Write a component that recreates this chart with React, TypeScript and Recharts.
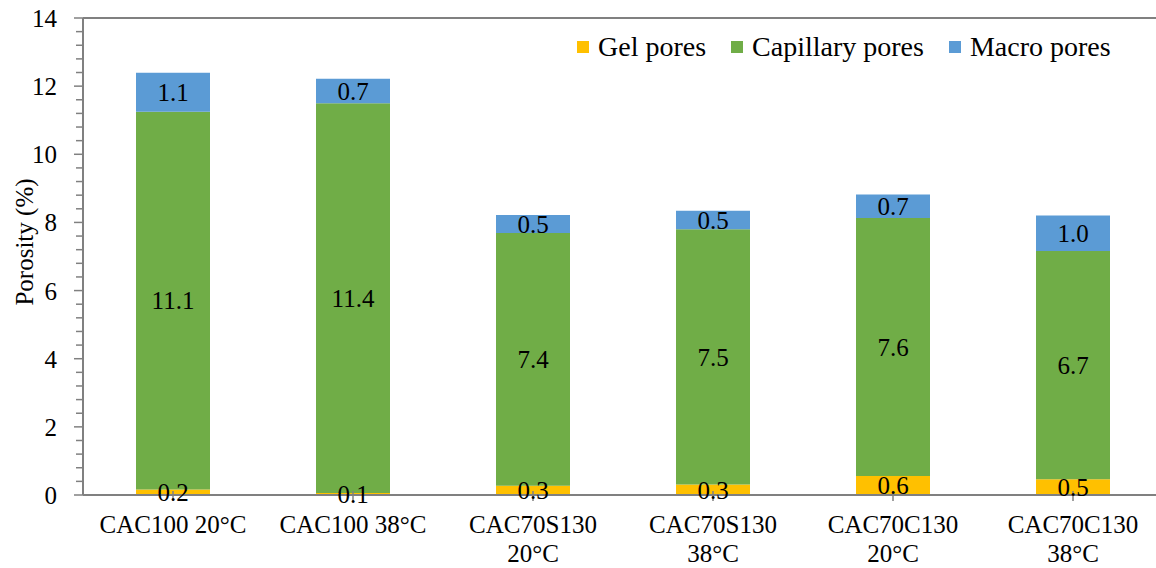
import { Bar, BarChart, LabelList, Legend, ReferenceLine, XAxis, YAxis } from 'recharts'

const categories = ['CAC100 20°C', 'CAC100 38°C', 'CAC70S130 20°C', 'CAC70S130 38°C', 'CAC70C130 20°C', 'CAC70C130 38°C']
const gelPores = [0.16, 0.06, 0.27, 0.31, 0.56, 0.46]
const capillaryPores = [11.09, 11.44, 7.42, 7.49, 7.57, 6.7]
const macroPores = [1.14, 0.72, 0.53, 0.54, 0.69, 1.04]
const majorTicks = [0, 2, 4, 6, 8, 10, 12, 14]

const seriesInfo = [
  { key: 'gel', name: 'Gel pores', color: '#FFC000' },
  { key: 'capillary', name: 'Capillary pores', color: '#70AD47' },
  { key: 'macro', name: 'Macro pores', color: '#5B9BD5' },
]

const data = categories.map((name, i) => ({
  name,
  gel: gelPores[i],
  capillary: capillaryPores[i],
  macro: macroPores[i],
}))

// excel style: minor tick every major/5
const allTicks: number[] = []
for (let i = 0; i < majorTicks.length - 1; i++) {
  for (let j = 0; j < 5; j++) allTicks.push(majorTicks[i] + ((majorTicks[i + 1] - majorTicks[i]) * j) / 5)
}
allTicks.push(majorTicks[majorTicks.length - 1])

const FONT = "'Liberation Serif', Tinos, 'Times New Roman', Times, 'DejaVu Serif', serif"
const AXIS = '#808080'

function YTick({ x, y, payload }: any) {
  const major = majorTicks.some((t) => Math.abs(t - payload.value) < 1e-6)
  return (
    <g>
      <line x1={x - (major ? 9 : 7)} x2={x} y1={y} y2={y} stroke={AXIS} strokeWidth={1.5} />
      {major && (
        <text x={x - 26} y={y} dy={9} textAnchor="end" fontSize={25} style={{ fontFamily: FONT }} fill="#000">
          {payload.value}
        </text>
      )}
    </g>
  )
}

function XTick({ x, y, payload }: any) {
  const label: string = payload.value
  let lines = [label]
  if (label.length > 11) {
    const k = label.lastIndexOf(' ')
    lines = [label.slice(0, k), label.slice(k + 1)]
  }
  return (
    <g>
      <line x1={x} x2={x} y1={y - 4} y2={y + 6} stroke={AXIS} strokeWidth={1.5} />
      <text x={x} y={y + 38} textAnchor="middle" fontSize={25} style={{ fontFamily: FONT }} fill="#000">
        {lines.map((l, i) => (
          <tspan key={i} x={x} dy={i === 0 ? 0 : 29}>
            {l}
          </tspan>
        ))}
      </text>
    </g>
  )
}

function LegendBox() {
  return (
    <div style={{ display: 'flex', alignItems: 'center', fontFamily: FONT, fontSize: 28, color: '#000', whiteSpace: 'nowrap' }}>
      {seriesInfo.map((s) => (
        <div key={s.key} style={{ display: 'flex', alignItems: 'center', marginRight: 25 }}>
          <span style={{ width: 12, height: 12, background: s.color, display: 'inline-block', marginRight: 9 }} />
          <span>{s.name}</span>
        </div>
      ))}
    </div>
  )
}

export default function App() {
  return (
    <div style={{ width: 1156, height: 568, overflow: 'hidden', background: '#fff', position: 'relative', fontFamily: FONT }}>
      <style>{'body{margin:0}'}</style>
      <BarChart width={1170} height={568} data={data} margin={{ top: 18, right: 7, bottom: 0, left: 0 }} barSize={74}>
        <XAxis
          dataKey="name"
          height={73}
          interval={0}
          tickSize={0}
          tickMargin={0}
          tickLine={false}
          axisLine={{ stroke: AXIS, strokeWidth: 2 }}
          tick={<XTick />}
        />
        <YAxis
          width={83}
          domain={[0, 14]}
          ticks={allTicks}
          interval={0}
          tickSize={0}
          tickMargin={0}
          tickLine={false}
          axisLine={{ stroke: AXIS, strokeWidth: 2 }}
          tick={<YTick />}
          label={{
            content: () => (
              <text transform="translate(33,242) rotate(-90)" textAnchor="middle" fontSize={25} style={{ fontFamily: FONT }} fill="#000">
                Porosity (%)
              </text>
            ),
          }}
        />
        <ReferenceLine y={14} stroke={AXIS} strokeWidth={2} />
        <Legend
          verticalAlign="middle"
          align="center"
          wrapperStyle={{ top: 31, left: 577, width: 580, height: 34 }}
          content={() => <LegendBox />}
        />
        {seriesInfo.map((s) => (
          <Bar key={s.key} dataKey={s.key} name={s.name} stackId="a" fill={s.color} isAnimationActive={false}>
            <LabelList
              dataKey={s.key}
              position="center"
              formatter={(v: any) => Number(v).toFixed(1)}
              fill="#000"
              fontSize={25}
              style={{ fontFamily: FONT }}
            />
          </Bar>
        ))}
      </BarChart>
    </div>
  )
}
